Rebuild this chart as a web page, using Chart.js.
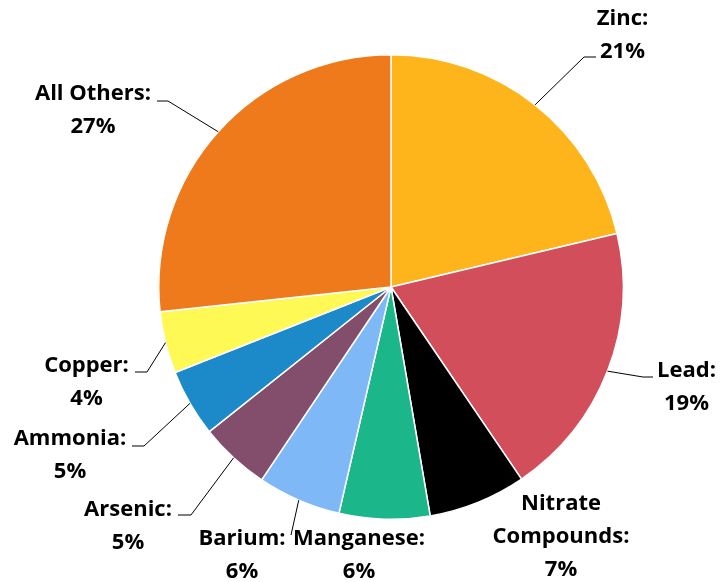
<!DOCTYPE html>
<html>
<head>
<meta charset="utf-8">
<script src="https://cdn.jsdelivr.net/npm/chart.js@4/dist/chart.umd.min.js"></script>
<style>
  html, body { margin: 0; padding: 0; background: #fff; }
  #wrap { width: 721px; height: 582px; position: relative; }
</style>
</head>
<body>
<div id="wrap"><canvas id="chart"></canvas></div>
<script>
const categories = ['Zinc', 'Lead', 'Nitrate Compounds', 'Manganese', 'Barium', 'Arsenic', 'Ammonia', 'Copper', 'All Others'];
const shares = [21.3, 19.2, 6.8, 6.3, 5.8, 4.9, 4.7, 4.3, 26.7];

const colors = [
  '#FDB51B', // zinc
  '#D14E5A', // lead
  '#000000', // nitrate
  '#1BB78A', // manganese
  '#7EB8F7', // barium
  '#824E6B', // arsenic
  '#1C89C9', // ammonia
  '#FFF955', // copper
  '#EE7A1B'  // all others
];

// label placement, relative to the pie centre: text anchor (centre x, first baseline)
// and an optional elbow + end for the leader line
const labelLayout = [
  { lines: ['Zinc:'], at: [231.5, -262], elbow: [193, -230], end: [205, -230] },
  { lines: ['Lead:'], at: [295.5, 90], elbow: [252, 90], end: [262, 90] },
  { lines: ['Nitrate', 'Compounds:'], at: [170, 223] },
  { lines: ['Manganese:'], at: [-32, 258] },
  { lines: ['Barium:'], at: [-149, 258], elbow: [-100, 248] },
  { lines: ['Arsenic:'], at: [-263, 229], elbow: [-200, 228], end: [-213, 228] },
  { lines: ['Ammonia:'], at: [-321, 158], elbow: [-247, 159], end: [-259, 159] },
  { lines: ['Copper:'], at: [-304.5, 85], elbow: [-244, 85], end: [-256, 85] },
  { lines: ['All Others:'], at: [-298, -187], elbow: [-223, -186], end: [-234, -186] }
];

const FONT = 'bold 22px "Open Sans", Lato, sans-serif';
const LINE_H = 33;

const calloutLabels = {
  id: 'calloutLabels',
  afterDatasetsDraw(chart) {
    const ctx = chart.ctx;
    const arcs = chart.getDatasetMeta(0).data;
    ctx.save();
    ctx.font = FONT;
    ctx.fillStyle = '#000';
    ctx.strokeStyle = '#000';
    ctx.lineWidth = 1;
    ctx.textAlign = 'center';
    ctx.textBaseline = 'alphabetic';
    arcs.forEach((arc, i) => {
      const cx = arc.x, cy = arc.y;
      const lay = labelLayout[i];
      const mid = (arc.startAngle + arc.endAngle) / 2;
      if (lay.elbow) {
        ctx.beginPath();
        ctx.moveTo(cx + Math.cos(mid) * arc.outerRadius, cy + Math.sin(mid) * arc.outerRadius);
        ctx.lineTo(cx + lay.elbow[0], cy + lay.elbow[1]);
        if (lay.end) ctx.lineTo(cx + lay.end[0], cy + lay.end[1]);
        ctx.stroke();
      }
      const pct = Math.round(shares[i]) + '%';
      const lines = lay.lines.concat([pct]);
      lines.forEach((t, k) => {
        ctx.fillText(t, cx + lay.at[0], cy + lay.at[1] + k * LINE_H);
      });
    });
    ctx.restore();
  }
};

new Chart(document.getElementById('chart'), {
  type: 'pie',
  data: {
    labels: categories,
    datasets: [{
      data: shares,
      backgroundColor: colors,
      borderColor: '#ffffff',
      borderWidth: 1.5
    }]
  },
  options: {
    responsive: true,
    maintainAspectRatio: false,
    animation: false,
    layout: { padding: { left: 158, right: 97, top: 54, bottom: 62 } },
    plugins: {
      legend: { display: false },
      tooltip: { enabled: false }
    }
  },
  plugins: [calloutLabels]
});
</script>
</body>
</html>
